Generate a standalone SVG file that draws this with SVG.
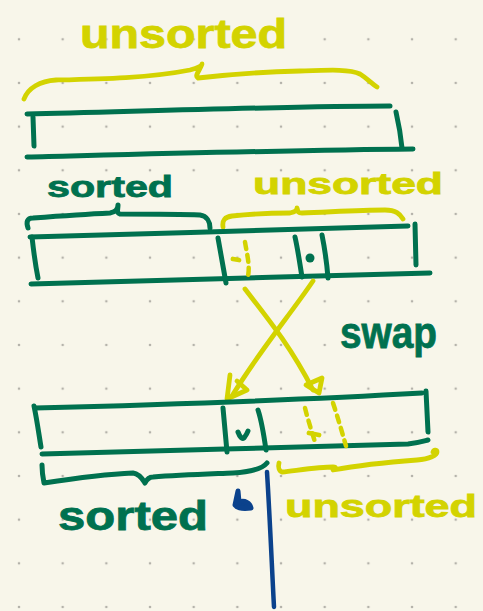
<svg xmlns="http://www.w3.org/2000/svg" width="483" height="611" viewBox="0 0 483 611">
  <defs>
    <pattern id="dotgrid" x="19" y="-4.4" width="43.67" height="43.67" patternUnits="userSpaceOnUse">
      <circle cx="0" cy="0" r="1.3" fill="#b4b2aa"/>
      <circle cx="43.67" cy="0" r="1.3" fill="#b4b2aa"/>
      <circle cx="0" cy="43.67" r="1.3" fill="#b4b2aa"/>
      <circle cx="43.67" cy="43.67" r="1.3" fill="#b4b2aa"/>
    </pattern>
  </defs>
  <style>
    .g { fill: none; stroke: #00714f; stroke-width: 5; stroke-linecap: round; stroke-linejoin: round; }
    .y { fill: none; stroke: #d3d300; stroke-width: 4.8; stroke-linecap: round; stroke-linejoin: round; }
    .yd { fill: none; stroke: #d3d300; stroke-width: 4.5; stroke-linecap: round; stroke-dasharray: 7 6; }
    .b { fill: none; stroke: #0b428c; stroke-width: 4.5; stroke-linecap: round; stroke-linejoin: round; }
    .bf { fill: #0b428c; stroke: #0b428c; stroke-width: 5; stroke-linecap: round; stroke-linejoin: round; }
    .tg { fill: #00714f; stroke: #00714f; stroke-width: 0.8; font-family: "Liberation Sans", "DejaVu Sans", sans-serif; font-weight: bold; }
    .ty { fill: #d3d300; stroke: #d3d300; stroke-width: 0.8; font-family: "Liberation Sans", "DejaVu Sans", sans-serif; font-weight: bold; }
  </style>

  <!-- paper -->
  <rect width="483" height="611" fill="#f8f6ea"/>
  <rect width="483" height="611" fill="url(#dotgrid)"/>

  <!-- row 1: whole array, all unsorted -->
  <g id="label-unsorted-top">
    <text class="ty" x="80" y="48" font-size="40" textLength="207" lengthAdjust="spacingAndGlyphs">unsorted</text>
  </g>
  <g id="brace-unsorted-top">
    <path class="y" d="M24,99 C28,88 40,81 56,80 C100,79 150,78 190,70 C198,68 202,66 202,64 C200,70 194,76 198,78 C215,76 260,72 300,71 C330,70 350,69 360,74 C368,79 372,84 377,87"/>
  </g>
  <g id="array-1">
    <path class="g" d="M27,114 C150,111 300,106 390,106"/>
    <path class="g" d="M33,117 L34,146"/>
    <path class="g" d="M396,112 C399,125 401,138 402,148"/>
    <path class="g" d="M27,157 C150,154 300,150 413,149"/>
  </g>

  <!-- row 2: sorted prefix and unsorted suffix -->
  <g id="label-sorted-mid">
    <text class="tg" x="47" y="197" font-size="29" textLength="126" lengthAdjust="spacingAndGlyphs">sorted</text>
  </g>
  <g id="label-unsorted-mid">
    <text class="ty" x="253" y="194" font-size="29" textLength="190" lengthAdjust="spacingAndGlyphs">unsorted</text>
  </g>
  <g id="brace-sorted-mid">
    <path class="g" d="M28,228 C26,222 27,218 33,218 C60,216 90,214 110,213 C116,212 118,208 118,205 C118,210 116,213 120,214 C150,214 180,214 200,215 C207,216 210,222 210,228"/>
  </g>
  <g id="brace-unsorted-mid">
    <path class="y" d="M223,227 C222,220 225,217 232,216 C250,214 270,213 290,213 C295,212 297,210 297,208 C298,212 298,213 302,213 C330,212 360,210 385,210 C396,210 400,214 403,219"/>
  </g>
  <g id="array-2">
    <path class="g" d="M30,237 C150,234 300,229 408,226"/>
    <path class="g" d="M415,224 L416,265"/>
    <path class="g" d="M32,237 C34,255 36,268 38,278"/>
    <path class="g" d="M31,284 C150,281 300,276 430,273"/>
    <path class="g" d="M218,238 L226,283"/>
    <path class="g" d="M295,237 C298,250 300,265 302,277"/>
    <path class="g" d="M322,235 C325,250 327,265 328,278"/>
    <path class="yd" d="M245,242 C247,255 251,268 247,280"/>
    <path class="y" d="M233,259 L239,260"/>
    <circle cx="310" cy="258" r="4.5" fill="#00714f"/>
  </g>

  <!-- swap arrows between row 2 and row 3 -->
  <g id="connectors">
    <path class="y" d="M245,289 C265,315 290,345 313,390"/>
    <path class="y" d="M306,385 L322,378 L319,393 Z"/>
    <path class="y" d="M313,281 C290,315 260,350 232,396"/>
    <path class="y" d="M230,375 L227,399 L247,390 L237,381"/>
  </g>
  <g id="label-swap">
    <text class="tg" x="340" y="348" font-size="44" textLength="97" lengthAdjust="spacingAndGlyphs">swap</text>
  </g>

  <!-- row 3: after the swap -->
  <g id="array-3">
    <path class="g" d="M35,408 C150,405 300,400 422,393"/>
    <path class="g" d="M34,406 C37,420 39,435 41,447"/>
    <path class="g" d="M426,391 L428,432"/>
    <path class="g" d="M42,454 C150,451 300,447 408,444 C418,443 424,441 428,440"/>
    <path class="g" d="M223,408 L227,452"/>
    <path class="g" d="M258,410 C262,422 264,436 266,450"/>
    <path class="g" d="M238,432 Q241,440 244,438 Q247,434 248,431"/>
    <path class="yd" d="M305,408 C308,420 312,432 315,442"/>
    <path class="y" d="M309,433 L319,435"/>
    <path class="yd" d="M333,403 C338,418 342,432 346,446"/>
  </g>
  <g id="brace-sorted-bottom">
    <path class="g" d="M42,465 C42,472 43,478 44,483 C70,479 110,474 133,473 C140,474 143,480 145,483 C147,479 150,477 153,477 C180,475 210,474 233,473 C250,472 262,469 267,463"/>
  </g>
  <g id="brace-unsorted-bottom">
    <path class="y" d="M279,463 C278,467 279,471 282,472 C300,470 320,467 333,467 C336,467 336,468 333,470 C360,465 390,462 417,460 C430,459 437,455 437,452 C437,450 434,449 433,452"/>
  </g>
  <g id="boundary">
    <path class="b" d="M267,472 C270,520 272,570 274,607"/>
    <path class="bf" d="M238,491 L235,505 C238,509 244,509 251,508 C250,503 245,500 239,502 Z"/>
  </g>
  <g id="label-sorted-bottom">
    <text class="tg" x="58" y="530" font-size="40" textLength="150" lengthAdjust="spacingAndGlyphs">sorted</text>
  </g>
  <g id="label-unsorted-bottom">
    <text class="ty" x="285" y="517" font-size="31" textLength="192" lengthAdjust="spacingAndGlyphs">unsorted</text>
  </g>
</svg>
